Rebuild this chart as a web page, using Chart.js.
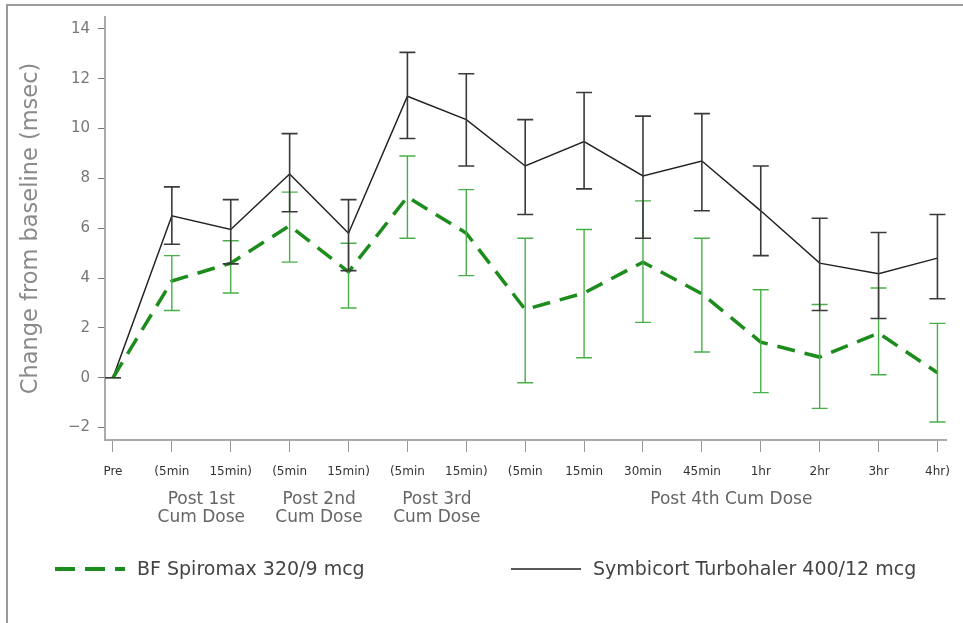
<!DOCTYPE html>
<html>
<head>
<meta charset="utf-8">
<script src="https://cdn.jsdelivr.net/npm/chart.js@4.4.1/dist/chart.umd.min.js"></script>
<style>
  html, body { margin: 0; padding: 0; background: #fff; }
  #wrap { position: relative; width: 963px; height: 623px; overflow: hidden; }
  #frame { position: absolute; left: 6px; top: 4px; width: 1000px; height: 700px;
           border-left: 2px solid #9a9a9a; border-top: 2px solid #9a9a9a; }
  #legend { position: absolute; top: 557px; left: 0; font-family: "DejaVu Sans", sans-serif;
            font-size: 19px; color: #444; }
  .item { position: absolute; white-space: nowrap; display: flex; align-items: center; }
  .item svg { margin-right: 12px; }
</style>
</head>
<body>
<div id="wrap">
  <canvas id="chart" width="963" height="623"></canvas>
  <div id="frame"></div>
  <div id="legend"></div>
</div>
<script>
// Categories (time points)
const categories = ["Pre", "(5min", "15min)", "(5min", "15min)", "(5min", "15min)",
  "(5min", "15min", "30min", "45min", "1hr", "2hr", "3hr", "4hr)"];
const groupPos = [1.5, 3.5, 5.5, 10.5];
const groupLabels = [["Post 1st", "Cum Dose"], ["Post 2nd", "Cum Dose"], ["Post 3rd", "Cum Dose"], ["Post 4th Cum Dose"]];
const yTicks = [-2, 0, 2, 4, 6, 8, 10, 12, 14];

// BF Spiromax 320/9 mcg
const spiroMean = [0, 3.88, 4.6, 6.1, 4.25, 7.26, 5.8, 2.74, 3.4, 4.64, 3.37, 1.43, 0.83, 1.79, 0.2];
const spiroLow  = [0, 2.7, 3.4, 4.64, 2.8, 5.6, 4.1, -0.2, 0.8, 2.22, 1.03, -0.6, -1.23, 0.12, -1.78];
const spiroHigh = [0, 4.9, 5.5, 7.45, 5.4, 8.9, 7.55, 5.6, 5.95, 7.1, 5.6, 3.53, 2.94, 3.6, 2.18];

// Symbicort Turbohaler 400/12 mcg
const symbMean = [0, 6.5, 5.95, 8.18, 5.8, 11.3, 10.36, 8.5, 9.48, 8.1, 8.7, 6.7, 4.6, 4.17, 4.8];
const symbLow  = [0, 5.36, 4.57, 6.66, 4.3, 9.6, 8.5, 6.55, 7.58, 5.6, 6.7, 4.9, 2.7, 2.38, 3.17];
const symbHigh = [0, 7.66, 7.15, 9.8, 7.15, 13.06, 12.2, 10.36, 11.45, 10.5, 10.6, 8.5, 6.4, 5.83, 6.55];

const toPoints = arr => arr.map((v, i) => ({ x: i, y: v }));
const font = "'DejaVu Sans', sans-serif";

// error bars drawn from the low/high arrays through the chart scales
const errorBars = {
  id: "errorBars",
  afterDatasetsDraw(chart) {
    const { ctx, scales: { x, y } } = chart;
    chart.data.datasets.forEach(ds => {
      ctx.save();
      ctx.strokeStyle = ds.errColor;
      ctx.lineWidth = ds.errWidth;
      ds.data.forEach((p, i) => {
        const px = x.getPixelForValue(p.x);
        const lo = y.getPixelForValue(ds.errLow[i]);
        const hi = y.getPixelForValue(ds.errHigh[i]);
        ctx.beginPath();
        ctx.moveTo(px, lo); ctx.lineTo(px, hi);
        ctx.moveTo(px - 8, lo); ctx.lineTo(px + 8, lo);
        ctx.moveTo(px - 8, hi); ctx.lineTo(px + 8, hi);
        ctx.stroke();
      });
      ctx.restore();
    });
  }
};

const chart = new Chart(document.getElementById("chart"), {
  type: "line",
  data: {
    datasets: [{
      label: "BF Spiromax 320/9 mcg",
      data: toPoints(spiroMean),
      errLow: spiroLow,
      errHigh: spiroHigh,
      borderColor: "#1c8c1c",
      borderWidth: 3.5,
      borderDash: [18, 10],
      errColor: "#48b048",
      errWidth: 1.4,
      pointRadius: 0,
      tension: 0
    }, {
      label: "Symbicort Turbohaler 400/12 mcg",
      data: toPoints(symbMean),
      errLow: symbLow,
      errHigh: symbHigh,
      borderColor: "#222",
      borderWidth: 1.5,
      errColor: "#3a3a3a",
      errWidth: 1.6,
      pointRadius: 0,
      tension: 0
    }]
  },
  options: {
    responsive: false,
    animation: false,
    layout: { padding: { top: 12, right: 12, bottom: 83, left: 0 } },
    plugins: { legend: { display: false }, tooltip: { enabled: false } },
    scales: {
      x: {
        type: "linear",
        min: -0.135,
        max: 14.15,
        afterBuildTicks: s => { s.ticks = categories.map((c, i) => ({ value: i })); },
        afterFit: s => { s.height = 40; },
        ticks: {
          autoSkip: false, maxRotation: 0, padding: 13,
          color: "#333", font: { family: font, size: 12 },
          callback: v => categories[v]
        },
        grid: { drawOnChartArea: false, tickLength: 12, color: "#999" },
        border: { color: "#aaa", width: 2 }
      },
      x2: {
        type: "linear",
        position: "bottom",
        min: -0.135,
        max: 14.15,
        afterBuildTicks: s => { s.ticks = groupPos.map(v => ({ value: v })); },
        afterFit: s => { s.height = 60; },
        ticks: {
          autoSkip: false, maxRotation: 0, padding: 10,
          color: "#666", font: { family: font, size: 17, lineHeight: 1.1 },
          callback: (v, i) => groupLabels[i]
        },
        grid: { display: false, drawTicks: false },
        border: { display: false }
      },
      y: {
        min: -2.5,
        max: 14.48,
        afterBuildTicks: s => { s.ticks = yTicks.map(v => ({ value: v })); },
        afterFit: s => { s.width = 105; },
        ticks: {
          padding: 8, color: "#777", font: { family: font, size: 15 },
          callback: v => v < 0 ? "\u2212" + Math.abs(v) : v
        },
        grid: { drawOnChartArea: false, tickLength: 7, color: "#777" },
        border: { color: "#aaa", width: 2 },
        title: {
          display: true,
          text: "Change from baseline (msec)",
          color: "#8a8a8a",
          font: { family: font, size: 22.5 },
          padding: { top: 18, bottom: 0 }
        }
      }
    }
  },
  plugins: [errorBars]
});

// legend from the datasets
const legendPos = [55, 511];
const legend = document.getElementById("legend");
chart.data.datasets.forEach((ds, i) => {
  const item = document.createElement("div");
  item.className = "item";
  item.style.left = legendPos[i] + "px";
  const dash = ds.borderDash ? 'stroke-dasharray="20 10"' : "";
  item.innerHTML = '<svg width="70" height="20"><line x1="0" y1="11" x2="70" y2="11" stroke="' +
    ds.borderColor + '" stroke-width="' + (ds.borderDash ? 4 : 1.5) + '" ' + dash + '/></svg>';
  const t = document.createElement("span");
  t.textContent = ds.label;
  item.appendChild(t);
  legend.appendChild(item);
});
</script>
</body>
</html>
